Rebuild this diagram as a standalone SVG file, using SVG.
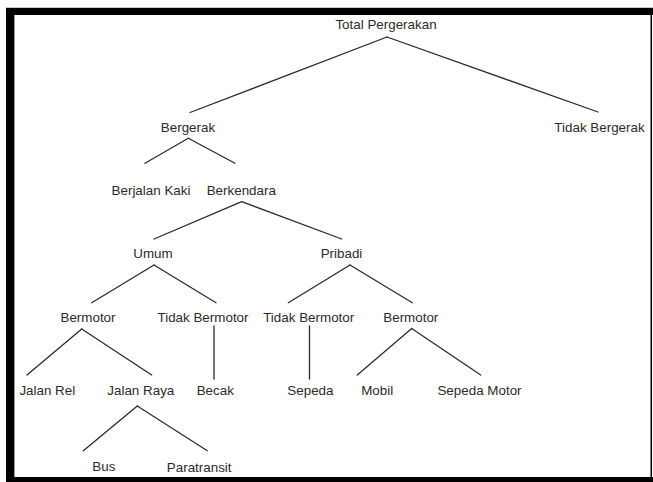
<svg xmlns="http://www.w3.org/2000/svg" width="653" height="482" viewBox="0 0 653 482">
  <style>
    .lbl { font-family: "Liberation Sans", Arial, sans-serif; font-size: 13.4px; fill: #2b2b2b; text-anchor: middle; }
    .edge { stroke: #2b2b2b; stroke-width: 1.3; fill: none; stroke-linecap: round; }
  </style>

  <!-- page background and frame -->
  <rect x="0" y="0" width="653" height="482" fill="#ffffff"/>
  <rect x="6" y="7" width="647" height="1" fill="#c8c8c8"/>
  <rect x="6" y="8" width="647" height="474" fill="#000000"/>
  <rect x="14" y="15" width="636.5" height="462" fill="#ffffff"/>
  <rect x="14" y="15" width="1" height="462" fill="#9a9a9a"/>
  <rect x="652" y="15" width="1" height="462" fill="#ffffff"/>

  <!-- connectors -->
  <g id="connectors">
    <line class="edge" x1="387" y1="37" x2="190" y2="112.5"/>
    <line class="edge" x1="387" y1="37" x2="598" y2="112"/>
    <line class="edge" x1="188.3" y1="138.3" x2="145" y2="163.3"/>
    <line class="edge" x1="188.3" y1="138.3" x2="235" y2="163.3"/>
    <line class="edge" x1="241.7" y1="201.7" x2="154" y2="239"/>
    <line class="edge" x1="241.7" y1="201.7" x2="341.7" y2="239"/>
    <line class="edge" x1="154" y1="265" x2="91.7" y2="302.7"/>
    <line class="edge" x1="154" y1="265" x2="216" y2="302.7"/>
    <line class="edge" x1="350" y1="265" x2="288.3" y2="302.7"/>
    <line class="edge" x1="350" y1="265" x2="412.3" y2="302.7"/>
    <line class="edge" x1="81.7" y1="329" x2="27" y2="375"/>
    <line class="edge" x1="81.7" y1="329" x2="151.7" y2="375"/>
    <line class="edge" x1="214" y1="326" x2="214" y2="379"/>
    <line class="edge" x1="309.5" y1="326" x2="309.5" y2="379"/>
    <line class="edge" x1="411.7" y1="328.5" x2="357.3" y2="375"/>
    <line class="edge" x1="411.7" y1="328.5" x2="480.7" y2="375"/>
    <line class="edge" x1="137.3" y1="406" x2="83.3" y2="450.7"/>
    <line class="edge" x1="137.3" y1="406" x2="207.3" y2="450.7"/>
  </g>

  <!-- nodes -->
  <g id="total-pergerakan"><text class="lbl" x="386" y="29">Total Pergerakan</text></g>
  <g id="bergerak"><text class="lbl" x="188" y="131.7">Bergerak</text></g>
  <g id="tidak-bergerak"><text class="lbl" x="599.5" y="131.7">Tidak Bergerak</text></g>
  <g id="berjalan-kaki"><text class="lbl" x="151" y="195">Berjalan Kaki</text></g>
  <g id="berkendara"><text class="lbl" x="241.3" y="195">Berkendara</text></g>
  <g id="umum"><text class="lbl" x="153" y="258.3">Umum</text></g>
  <g id="pribadi"><text class="lbl" x="341.5" y="258.3">Pribadi</text></g>
  <g id="umum-bermotor"><text class="lbl" x="88" y="321.7">Bermotor</text></g>
  <g id="umum-tidak-bermotor"><text class="lbl" x="203" y="321.7">Tidak Bermotor</text></g>
  <g id="pribadi-tidak-bermotor"><text class="lbl" x="308.7" y="321.7">Tidak Bermotor</text></g>
  <g id="pribadi-bermotor"><text class="lbl" x="410.8" y="321.7">Bermotor</text></g>
  <g id="jalan-rel"><text class="lbl" x="47.3" y="395">Jalan Rel</text></g>
  <g id="jalan-raya"><text class="lbl" x="140.8" y="395">Jalan Raya</text></g>
  <g id="becak"><text class="lbl" x="215.3" y="395">Becak</text></g>
  <g id="sepeda"><text class="lbl" x="310.4" y="395">Sepeda</text></g>
  <g id="mobil"><text class="lbl" x="377.2" y="395">Mobil</text></g>
  <g id="sepeda-motor"><text class="lbl" x="479.5" y="395">Sepeda Motor</text></g>
  <g id="bus"><text class="lbl" x="103.8" y="470.5">Bus</text></g>
  <g id="paratransit"><text class="lbl" x="199.2" y="472">Paratransit</text></g>
</svg>
